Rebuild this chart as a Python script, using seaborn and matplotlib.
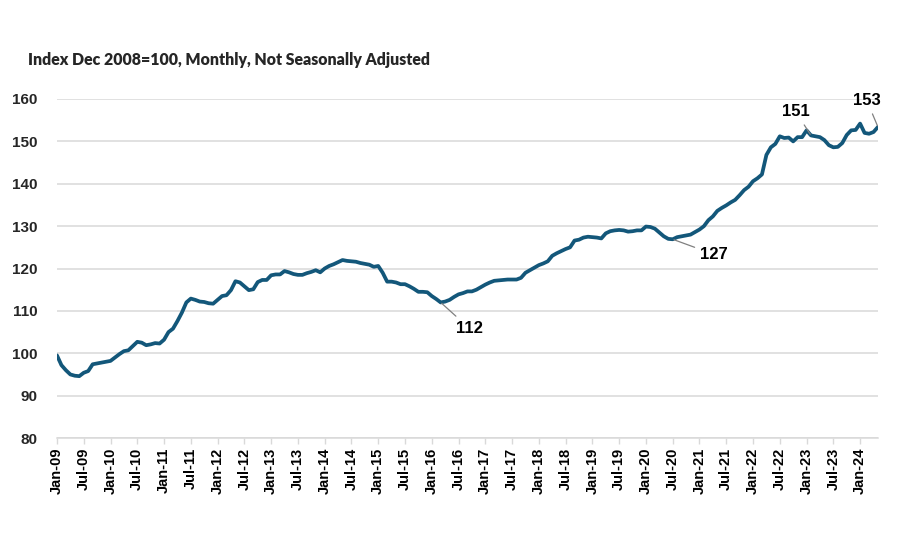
#! /usr/bin/env python

# third party
import matplotlib

matplotlib.use("Agg")
import matplotlib.pyplot as plt
import numpy as np
import pandas as pd
import seaborn as sns

# monthly index values, Jan-09 .. May-24
values = [
    # 2009
    99.5, 97.2, 96.0, 95.0, 94.7, 94.6, 95.4, 95.8, 97.4, 97.6, 97.8, 98.0,
    # 2010
    98.2, 99.0, 99.8, 100.5, 100.7, 101.7, 102.7, 102.5, 101.9, 102.1, 102.4, 102.3,
    # 2011
    103.2, 105.0, 105.8, 107.6, 109.6, 112.0, 112.9, 112.6, 112.2, 112.1, 111.8, 111.7,
    # 2012
    112.6, 113.5, 113.7, 114.9, 117.0, 116.7, 115.8, 114.9, 115.1, 116.8, 117.3, 117.3,
    # 2013
    118.4, 118.6, 118.6, 119.4, 119.1, 118.7, 118.5, 118.5, 118.9, 119.2, 119.6, 119.1,
    # 2014
    120.0, 120.6, 121.0, 121.5, 122.0, 121.8, 121.7, 121.6, 121.3, 121.1, 120.9, 120.4,
    # 2015
    120.6, 119.0, 116.9, 116.9, 116.7, 116.3, 116.3, 115.8, 115.2, 114.5, 114.5, 114.4,
    # 2016
    113.5, 112.8, 112.0, 112.2, 112.6, 113.3, 113.9, 114.2, 114.6, 114.6, 115.0, 115.6,
    # 2017
    116.2, 116.7, 117.1, 117.2, 117.3, 117.4, 117.4, 117.4, 117.8, 119.0, 119.6, 120.2,
    # 2018
    120.8, 121.2, 121.7, 123.0, 123.6, 124.1, 124.6, 125.0, 126.6, 126.8, 127.3, 127.5,
    # 2019
    127.4, 127.3, 127.1, 128.3, 128.8, 129.0, 129.1, 129.0, 128.7, 128.8, 129.0, 129.0,
    # 2020
    129.9, 129.8, 129.4, 128.5, 127.6, 127.0, 126.9, 127.4, 127.6, 127.8, 128.0, 128.6,
    # 2021
    129.2, 130.0, 131.4, 132.3, 133.6, 134.3, 134.9, 135.6, 136.2, 137.3, 138.5, 139.3,
    # 2022
    140.6, 141.3, 142.2, 146.8, 148.6, 149.4, 151.2, 150.8, 150.9, 150.0, 151.0, 151.0,
    # 2023
    152.6, 151.4, 151.2, 151.0, 150.3, 149.1, 148.6, 148.7, 149.6, 151.5, 152.6, 152.7,
    # 2024
    154.2, 152.0, 151.8, 152.2, 153.4,
]

tick_labels = [
    "Jan-09", "Jul-09", "Jan-10", "Jul-10", "Jan-11", "Jul-11", "Jan-12", "Jul-12",
    "Jan-13", "Jul-13", "Jan-14", "Jul-14", "Jan-15", "Jul-15", "Jan-16", "Jul-16",
    "Jan-17", "Jul-17", "Jan-18", "Jul-18", "Jan-19", "Jul-19", "Jan-20", "Jul-20",
    "Jan-21", "Jul-21", "Jan-22", "Jul-22", "Jan-23", "Jul-23", "Jan-24",
]

# (month index, label) for the callouts
callouts = [(86, "112"), (138, "127"), (169, "151"), (184, "153")]

title = "Index Dec 2008=100, Monthly, Not Seasonally Adjusted"

LINE = "#13577a"
GRID = "#d9d9d9"

data = pd.DataFrame(dict(month=np.arange(len(values)), value=values))

sns.set_theme(style="white")
plt.rcParams["font.family"] = ["Liberation Sans", "DejaVu Sans"]

fig = plt.figure(figsize=(9, 5.5), dpi=100)
ax = fig.add_axes([0.0633, 0.2036, 0.9122, 0.6164])

sns.lineplot(x="month", y="value", data=data, ax=ax, color=LINE, linewidth=2.7)

ax.set_xlim(0, len(values) - 1)
ax.set_ylim(80, 160)
ax.set_yticks(range(80, 161, 10))
ax.yaxis.grid(True, color=GRID, linewidth=1.1)
ax.set_axisbelow(True)

ax.set_xticks(range(0, 6 * len(tick_labels), 6))
ax.set_xticklabels(tick_labels, rotation=90, fontweight="bold", fontsize=10.5)
ax.tick_params(axis="x", which="both", bottom=True, length=4, width=1,
               color=GRID, pad=3, labelcolor="black")
ax.tick_params(axis="y", length=0, pad=14, labelsize=11, labelcolor="#262626")
for lbl in ax.get_yticklabels():
    lbl.set_fontweight("bold")

for side in ["left", "right", "top"]:
    ax.spines[side].set_visible(False)
ax.spines["bottom"].set_color(GRID)
ax.spines["bottom"].set_linewidth(1.1)

ax.set_xlabel("")
ax.set_ylabel("")

# callout placement offsets in points (label positions only)
offsets = {"112": (21, -19), "127": (30, -11), "151": (-11, 17), "153": (-8, 19)}
for month, text in callouts:
    dx, dy = offsets[text]
    ax.annotate(
        text,
        xy=(month, values[month]),
        xytext=(dx, dy),
        textcoords="offset points",
        ha="center",
        va="center",
        fontsize=12,
        fontweight="bold",
        color="black",
        arrowprops=dict(arrowstyle="-", color="#808080", linewidth=0.9,
                        shrinkA=2, shrinkB=1),
    )

fig.text(0.031, 0.891, title, fontsize=11.4, fontweight="heavy",
         family=["Lato", "DejaVu Sans"], va="center", ha="left")

fig.savefig("out.png", dpi=100)
